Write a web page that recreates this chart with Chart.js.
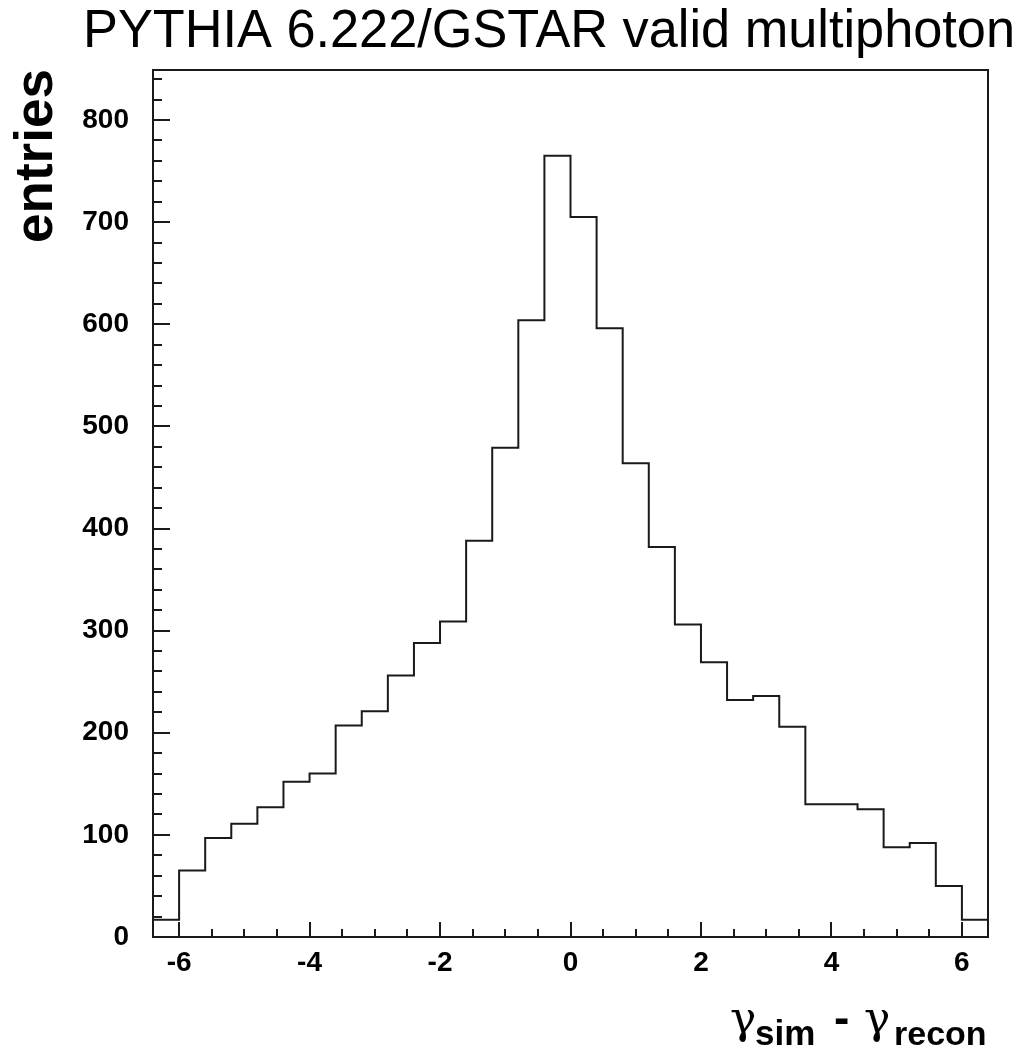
<!DOCTYPE html>
<html>
<head>
<meta charset="utf-8">
<script src="https://cdn.jsdelivr.net/npm/chart.js@4.4.1/dist/chart.umd.min.js"></script>
<style>
  html, body { margin: 0; padding: 0; background: #ffffff; }
  #c { display: block; }
</style>
</head>
<body>
<canvas id="c" width="1033" height="1057"></canvas>
<script>
// ---- data ----
const chartTitle = "PYTHIA 6.222/GSTAR valid multiphoton";
const yTitle = "entries";
const binLow = [-6.4, -6.0, -5.6, -5.2, -4.8, -4.4, -4.0, -3.6, -3.2, -2.8, -2.4, -2.0, -1.6, -1.2, -0.8, -0.4,
                 0.0, 0.4, 0.8, 1.2, 1.6, 2.0, 2.4, 2.8, 3.2, 3.6, 4.0, 4.4, 4.8, 5.2, 5.6, 6.0];
const binHighLast = 6.4;
const counts = [17, 65, 97, 111, 127, 152, 160, 207, 221, 256, 288, 309, 388, 479, 604, 765,
                705, 596, 464, 382, 306, 269, 232, 236, 206, 130, 130, 125, 88, 92, 50, 17];
const xTickLabels = [-6, -4, -2, 0, 2, 4, 6];
const yTickLabels = [0, 100, 200, 300, 400, 500, 600, 700, 800];

// histogram outline: one point at each bin's low edge, plus the final high edge
const points = binLow.map((x, i) => ({ x: x, y: counts[i] }));
points.push({ x: binHighLast, y: counts[counts.length - 1] });

const FONT = "'Liberation Sans', Arial, Helvetica, sans-serif";
const GREEK = "'DejaVu Serif', 'Liberation Serif', serif";
const INK = '#1a1a1a';

const decorations = {
  id: 'decorations',
  afterDraw(chart) {
    const ctx = chart.ctx;
    const a = chart.chartArea;
    const xs = chart.scales.x, ys = chart.scales.y;
    ctx.save();
    // frame
    ctx.strokeStyle = INK;
    ctx.lineWidth = 2;
    ctx.strokeRect(a.left, a.top, a.right - a.left, a.bottom - a.top);
    // y ticks (inward)
    for (let v = 0; v <= ys.max; v += 20) {
      const py = Math.round(ys.getPixelForValue(v));
      const len = (v % 100 === 0) ? 17 : 9;
      ctx.beginPath();
      ctx.moveTo(a.left, py);
      ctx.lineTo(a.left + len, py);
      ctx.stroke();
    }
    // x ticks (inward)
    for (let k = -12; k <= 12; k++) {
      const v = k * 0.5;
      const px = Math.round(xs.getPixelForValue(v));
      const len = (k % 4 === 0) ? 15 : 8;
      ctx.beginPath();
      ctx.moveTo(px, a.bottom);
      ctx.lineTo(px, a.bottom - len);
      ctx.stroke();
    }
    // title (fitted to the reference width)
    ctx.fillStyle = '#000';
    ctx.font = "54px " + FONT;
    ctx.textAlign = 'left';
    ctx.textBaseline = 'alphabetic';
    const tw = ctx.measureText(chartTitle).width;
    ctx.save();
    ctx.translate(83, 47);
    ctx.scale(932 / tw, 1);
    ctx.fillText(chartTitle, 0, 0);
    ctx.restore();
    // y title
    ctx.save();
    ctx.translate(52, 156);
    ctx.rotate(-Math.PI / 2);
    ctx.font = "bold 53px " + FONT;
    ctx.textAlign = 'center';
    ctx.fillText(yTitle, 0, 0);
    ctx.restore();
    // x title: gamma_sim - gamma_recon
    ctx.textAlign = 'left';
    ctx.font = "44px " + GREEK;
    ctx.fillText("\u03B3", 730, 1033);
    ctx.font = "bold 35px " + FONT;
    ctx.fillText("sim", 755, 1045);
    ctx.font = "bold 46px " + FONT;
    ctx.fillText("-", 834, 1033);
    ctx.font = "44px " + GREEK;
    ctx.fillText("\u03B3", 864, 1033);
    ctx.font = "bold 34px " + FONT;
    ctx.fillText("recon", 894, 1045);
    ctx.restore();
  }
};

new Chart(document.getElementById('c'), {
  type: 'line',
  data: {
    datasets: [{
      data: points,
      stepped: 'before',
      borderColor: INK,
      borderWidth: 2,
      pointRadius: 0,
      fill: false
    }]
  },
  options: {
    responsive: false,
    animation: false,
    devicePixelRatio: 1,
    layout: { padding: { top: 70, right: 45, left: 0, bottom: 0 } },
    plugins: { legend: { display: false }, title: { display: false }, tooltip: { enabled: false } },
    scales: {
      x: {
        type: 'linear',
        min: -6.4,
        max: 6.4,
        grid: { display: false, drawTicks: false },
        border: { display: false },
        ticks: {
          color: '#000',
          font: { family: FONT, size: 28, weight: 'bold' },
          padding: 9,
          maxRotation: 0,
          autoSkip: false,
          callback: (v) => String(v)
        },
        afterBuildTicks: (s) => { s.ticks = xTickLabels.map(v => ({ value: v })); },
        afterFit: (s) => { s.height = 120; }
      },
      y: {
        type: 'linear',
        min: 0,
        max: 849,
        grid: { display: false, drawTicks: false },
        border: { display: false },
        ticks: {
          color: '#000',
          font: { family: FONT, size: 28, weight: 'bold' },
          padding: 24,
          autoSkip: false,
          callback: (v) => String(v)
        },
        afterBuildTicks: (s) => { s.ticks = yTickLabels.map(v => ({ value: v })); },
        afterFit: (s) => { s.width = 153; }
      }
    }
  },
  plugins: [decorations]
});
</script>
</body>
</html>
